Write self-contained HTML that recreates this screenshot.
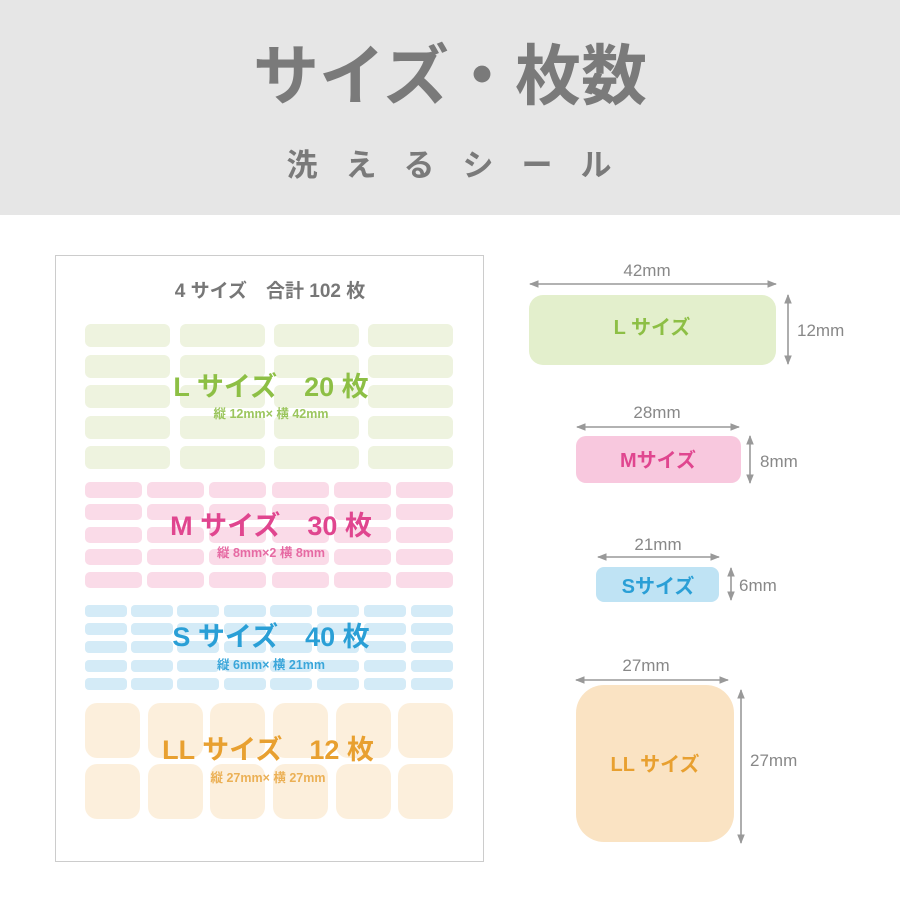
<!DOCTYPE html>
<html><head><meta charset="utf-8"><style>
html,body{margin:0;padding:0;background:#fff;}
svg{display:block;}
text{font-family:"Liberation Sans","Noto Sans CJK JP",sans-serif;}
</style></head><body>
<svg width="900" height="900" viewBox="0 0 900 900" xmlns="http://www.w3.org/2000/svg">
<defs>
<marker id="ah" viewBox="0 0 10 10" refX="9" refY="5" markerWidth="6" markerHeight="6" orient="auto-start-reverse"><path d="M0,1 L10,5 L0,9 Z" fill="#999"/></marker>
</defs>
<rect x="0" y="0" width="900" height="215" fill="#e6e6e6"/>
<text x="450" y="99" text-anchor="middle" font-size="66" font-weight="bold" fill="#7a7a7a">サイズ・枚数</text>
<text x="463" y="176" text-anchor="middle" font-size="31" font-weight="bold" fill="#7a7a7a" letter-spacing="28">洗えるシール</text>

<rect x="55.5" y="255.5" width="428" height="606" fill="#fff" stroke="#ccc"/>
<text x="270" y="297" text-anchor="middle" font-size="19" font-weight="bold" fill="#777">4 サイズ　合計 102 枚</text>

<g fill="#eef3df">
<rect x="85" y="324" width="85" height="23" rx="6"/><rect x="180" y="324" width="85" height="23" rx="6"/><rect x="274" y="324" width="85" height="23" rx="6"/><rect x="368" y="324" width="85" height="23" rx="6"/>
<rect x="85" y="355" width="85" height="23" rx="6"/><rect x="180" y="355" width="85" height="23" rx="6"/><rect x="274" y="355" width="85" height="23" rx="6"/><rect x="368" y="355" width="85" height="23" rx="6"/>
<rect x="85" y="385" width="85" height="23" rx="6"/><rect x="180" y="385" width="85" height="23" rx="6"/><rect x="274" y="385" width="85" height="23" rx="6"/><rect x="368" y="385" width="85" height="23" rx="6"/>
<rect x="85" y="416" width="85" height="23" rx="6"/><rect x="180" y="416" width="85" height="23" rx="6"/><rect x="274" y="416" width="85" height="23" rx="6"/><rect x="368" y="416" width="85" height="23" rx="6"/>
<rect x="85" y="446" width="85" height="23" rx="6"/><rect x="180" y="446" width="85" height="23" rx="6"/><rect x="274" y="446" width="85" height="23" rx="6"/><rect x="368" y="446" width="85" height="23" rx="6"/>
</g>
<text x="271" y="396" text-anchor="middle" font-size="27" font-weight="bold" fill="#8dbf45">L サイズ　20 枚</text>
<text x="271" y="418" text-anchor="middle" font-size="12.5" font-weight="bold" fill="#9cc65e">縦 12mm× 横 42mm</text>

<g fill="#fadbe8">
<rect x="85" y="482" width="57" height="16" rx="5"/><rect x="147" y="482" width="57" height="16" rx="5"/><rect x="209" y="482" width="57" height="16" rx="5"/><rect x="272" y="482" width="57" height="16" rx="5"/><rect x="334" y="482" width="57" height="16" rx="5"/><rect x="396" y="482" width="57" height="16" rx="5"/>
<rect x="85" y="504" width="57" height="16" rx="5"/><rect x="147" y="504" width="57" height="16" rx="5"/><rect x="209" y="504" width="57" height="16" rx="5"/><rect x="272" y="504" width="57" height="16" rx="5"/><rect x="334" y="504" width="57" height="16" rx="5"/><rect x="396" y="504" width="57" height="16" rx="5"/>
<rect x="85" y="527" width="57" height="16" rx="5"/><rect x="147" y="527" width="57" height="16" rx="5"/><rect x="209" y="527" width="57" height="16" rx="5"/><rect x="272" y="527" width="57" height="16" rx="5"/><rect x="334" y="527" width="57" height="16" rx="5"/><rect x="396" y="527" width="57" height="16" rx="5"/>
<rect x="85" y="549" width="57" height="16" rx="5"/><rect x="147" y="549" width="57" height="16" rx="5"/><rect x="209" y="549" width="57" height="16" rx="5"/><rect x="272" y="549" width="57" height="16" rx="5"/><rect x="334" y="549" width="57" height="16" rx="5"/><rect x="396" y="549" width="57" height="16" rx="5"/>
<rect x="85" y="572" width="57" height="16" rx="5"/><rect x="147" y="572" width="57" height="16" rx="5"/><rect x="209" y="572" width="57" height="16" rx="5"/><rect x="272" y="572" width="57" height="16" rx="5"/><rect x="334" y="572" width="57" height="16" rx="5"/><rect x="396" y="572" width="57" height="16" rx="5"/>
</g>
<text x="271" y="535" text-anchor="middle" font-size="27" font-weight="bold" fill="#e0468f">M サイズ　30 枚</text>
<text x="271" y="557" text-anchor="middle" font-size="12.5" font-weight="bold" fill="#e66aa3">縦 8mm×2 横 8mm</text>

<g fill="#d4ebf7">
<rect x="85" y="605" width="42" height="12" rx="4"/><rect x="131" y="605" width="42" height="12" rx="4"/><rect x="177" y="605" width="42" height="12" rx="4"/><rect x="224" y="605" width="42" height="12" rx="4"/><rect x="270" y="605" width="42" height="12" rx="4"/><rect x="317" y="605" width="42" height="12" rx="4"/><rect x="364" y="605" width="42" height="12" rx="4"/><rect x="411" y="605" width="42" height="12" rx="4"/>
<rect x="85" y="623" width="42" height="12" rx="4"/><rect x="131" y="623" width="42" height="12" rx="4"/><rect x="177" y="623" width="42" height="12" rx="4"/><rect x="224" y="623" width="42" height="12" rx="4"/><rect x="270" y="623" width="42" height="12" rx="4"/><rect x="317" y="623" width="42" height="12" rx="4"/><rect x="364" y="623" width="42" height="12" rx="4"/><rect x="411" y="623" width="42" height="12" rx="4"/>
<rect x="85" y="641" width="42" height="12" rx="4"/><rect x="131" y="641" width="42" height="12" rx="4"/><rect x="177" y="641" width="42" height="12" rx="4"/><rect x="224" y="641" width="42" height="12" rx="4"/><rect x="270" y="641" width="42" height="12" rx="4"/><rect x="317" y="641" width="42" height="12" rx="4"/><rect x="364" y="641" width="42" height="12" rx="4"/><rect x="411" y="641" width="42" height="12" rx="4"/>
<rect x="85" y="660" width="42" height="12" rx="4"/><rect x="131" y="660" width="42" height="12" rx="4"/><rect x="177" y="660" width="42" height="12" rx="4"/><rect x="224" y="660" width="42" height="12" rx="4"/><rect x="270" y="660" width="42" height="12" rx="4"/><rect x="317" y="660" width="42" height="12" rx="4"/><rect x="364" y="660" width="42" height="12" rx="4"/><rect x="411" y="660" width="42" height="12" rx="4"/>
<rect x="85" y="678" width="42" height="12" rx="4"/><rect x="131" y="678" width="42" height="12" rx="4"/><rect x="177" y="678" width="42" height="12" rx="4"/><rect x="224" y="678" width="42" height="12" rx="4"/><rect x="270" y="678" width="42" height="12" rx="4"/><rect x="317" y="678" width="42" height="12" rx="4"/><rect x="364" y="678" width="42" height="12" rx="4"/><rect x="411" y="678" width="42" height="12" rx="4"/>
</g>
<text x="271" y="646" text-anchor="middle" font-size="27" font-weight="bold" fill="#2a9fd6">S サイズ　40 枚</text>
<text x="271" y="669" text-anchor="middle" font-size="12.5" font-weight="bold" fill="#3aa6da">縦 6mm× 横 21mm</text>

<g fill="#fcefdc">
<rect x="85" y="703" width="55" height="55" rx="12"/><rect x="148" y="703" width="55" height="55" rx="12"/><rect x="210" y="703" width="55" height="55" rx="12"/><rect x="273" y="703" width="55" height="55" rx="12"/><rect x="336" y="703" width="55" height="55" rx="12"/><rect x="398" y="703" width="55" height="55" rx="12"/>
<rect x="85" y="764" width="55" height="55" rx="12"/><rect x="148" y="764" width="55" height="55" rx="12"/><rect x="210" y="764" width="55" height="55" rx="12"/><rect x="273" y="764" width="55" height="55" rx="12"/><rect x="336" y="764" width="55" height="55" rx="12"/><rect x="398" y="764" width="55" height="55" rx="12"/>
</g>
<text x="268" y="759" text-anchor="middle" font-size="27" font-weight="bold" fill="#e8a030">LL サイズ　12 枚</text>
<text x="268" y="782" text-anchor="middle" font-size="12.5" font-weight="bold" fill="#ebb055">縦 27mm× 横 27mm</text>

<g stroke="#999" stroke-width="1.6" marker-start="url(#ah)" marker-end="url(#ah)">
<line x1="530" y1="284" x2="776" y2="284"/>
<line x1="788" y1="295" x2="788" y2="364"/>
<line x1="577" y1="427" x2="739" y2="427"/>
<line x1="750" y1="436" x2="750" y2="483"/>
<line x1="598" y1="557" x2="719" y2="557"/>
<line x1="731" y1="568" x2="731" y2="600"/>
<line x1="576" y1="680" x2="728" y2="680"/>
<line x1="741" y1="690" x2="741" y2="843"/>
</g>
<g font-size="17" fill="#888">
<text x="647" y="276" text-anchor="middle">42mm</text>
<text x="797" y="336">12mm</text>
<text x="657" y="418" text-anchor="middle">28mm</text>
<text x="760" y="467">8mm</text>
<text x="658" y="550" text-anchor="middle">21mm</text>
<text x="739" y="591">6mm</text>
<text x="646" y="671" text-anchor="middle">27mm</text>
<text x="750" y="766">27mm</text>
</g>
<rect x="529" y="295" width="247" height="70" rx="14" fill="#e3efcc"/>
<rect x="576" y="436" width="165" height="47" rx="10" fill="#f8c8de"/>
<rect x="596" y="567" width="123" height="35" rx="8" fill="#bfe3f4"/>
<rect x="576" y="685" width="158" height="157" rx="28" fill="#fae3c3"/>
<text x="652" y="334" text-anchor="middle" font-size="20" font-weight="bold" fill="#8dbf45">L サイズ</text>
<text x="658" y="467" text-anchor="middle" font-size="20" font-weight="bold" fill="#e0468f">Mサイズ</text>
<text x="658" y="593" text-anchor="middle" font-size="20" font-weight="bold" fill="#2a9fd6">Sサイズ</text>
<text x="655" y="771" text-anchor="middle" font-size="20" font-weight="bold" fill="#e8a030">LL サイズ</text>
</svg>
</body></html>
